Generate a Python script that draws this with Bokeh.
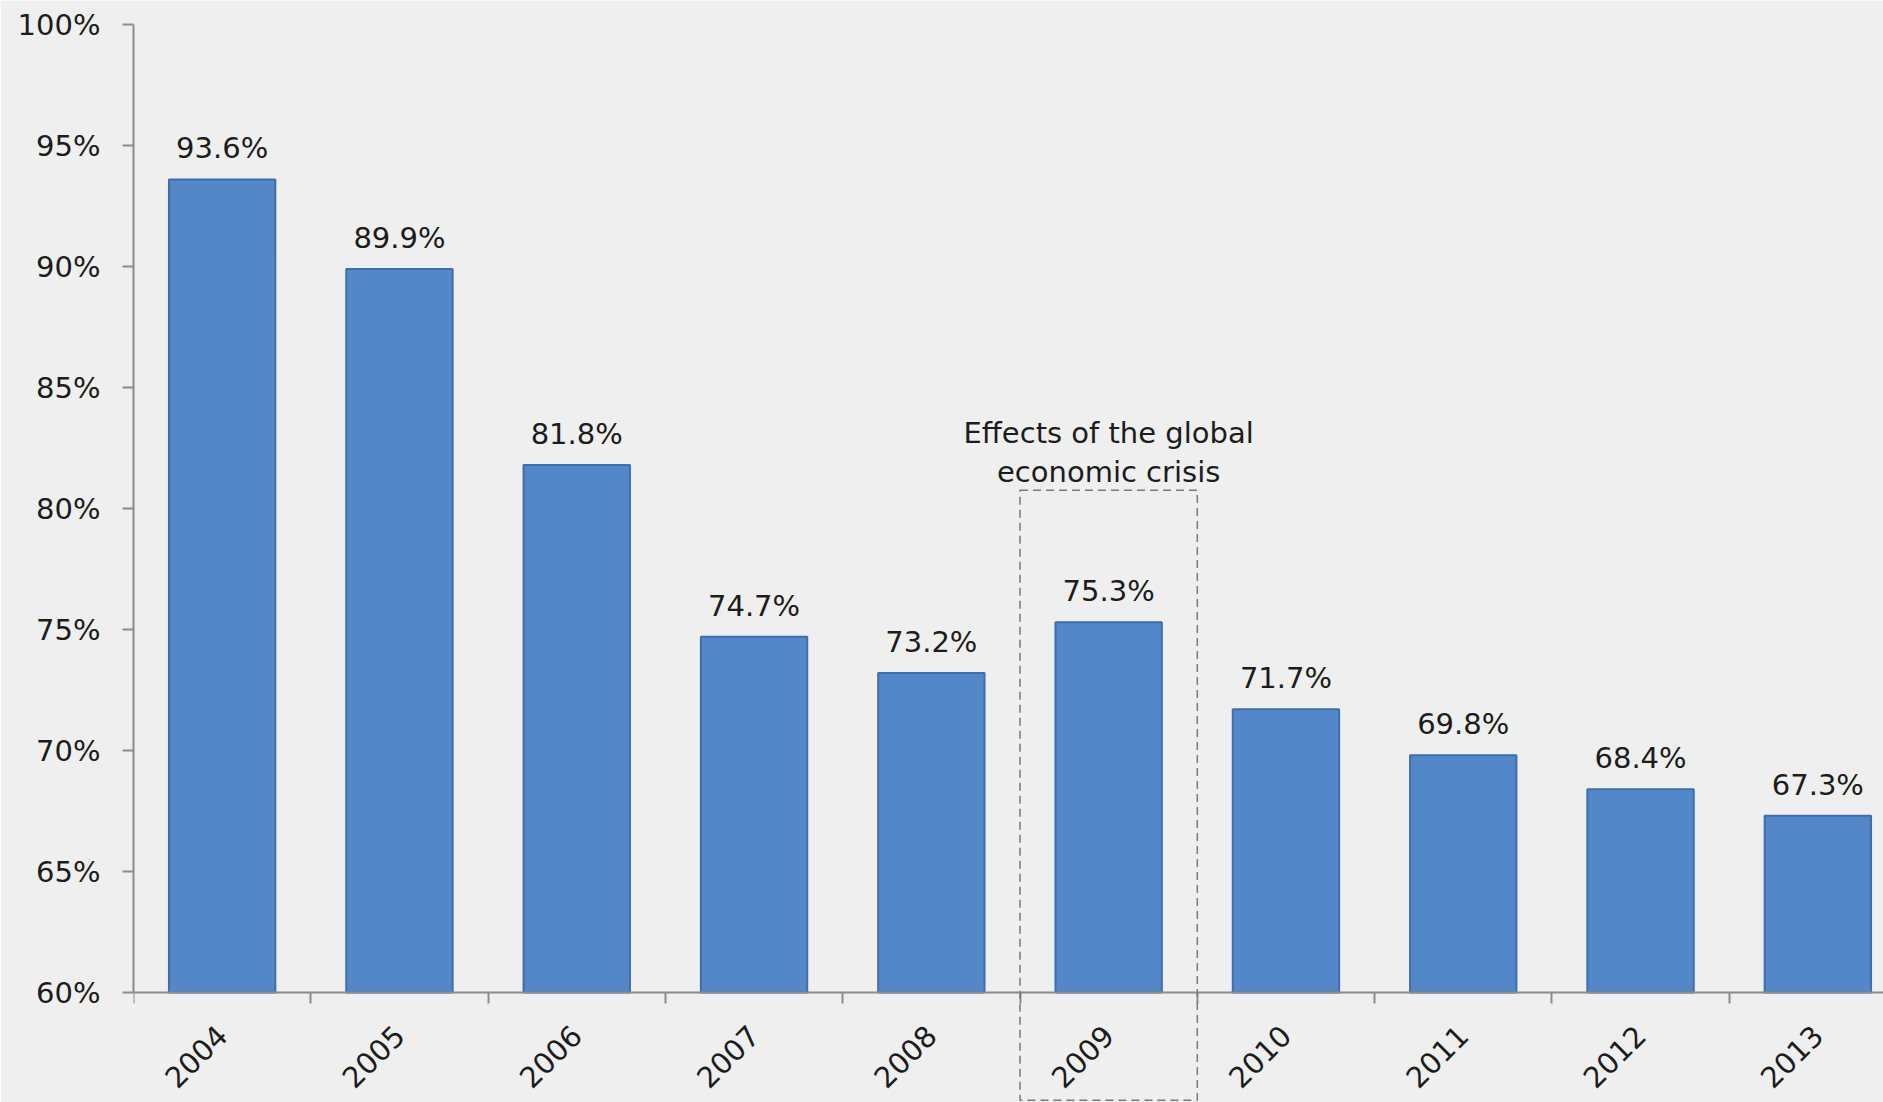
from bokeh.plotting import figure
from bokeh.models import Range1d, FixedTicker, BoxAnnotation, LabelSet, Label, ColumnDataSource, LinearAxis
from bokeh.core.properties import value
from bokeh.embed import file_html
from bokeh.resources import INLINE

# ---- data ----
years = ["2004", "2005", "2006", "2007", "2008", "2009", "2010", "2011", "2012", "2013"]
values = [93.6, 89.9, 81.8, 74.7, 73.2, 75.3, 71.7, 69.8, 68.4, 67.3]
value_labels = ["93.6%", "89.9%", "81.8%", "74.7%", "73.2%", "75.3%", "71.7%", "69.8%", "68.4%", "67.3%"]
y_ticks = [60, 65, 70, 75, 80, 85, 90, 95, 100]
y_tick_labels = ["60%", "65%", "70%", "75%", "80%", "85%", "90%", "95%", "100%"]
highlight_year = "2009"
annotation_lines = ["Effects of the global", "economic crisis"]

FONT = "DejaVu Sans"
FS = "29px"
TXT = "#1c1c1c"
AX = "#8c8c8c"
BG = "#efefef"

W, H = 1883, 1102
LEFT, TOP = 133, 24
CAT_PX = 177.3
PX_PER_UNIT = 24.2

centers = [i + 0.5 for i in range(len(years))]
bounds = [float(i) for i in range(len(years) + 1)]

x_end = (W - LEFT) / CAT_PX
y_start = 100 - (H - TOP) / PX_PER_UNIT

src = ColumnDataSource(dict(x=centers, top=values, lab=value_labels))

p = figure(width=W, height=H, output_backend="svg", toolbar_location=None,
           x_range=Range1d(0, x_end), y_range=Range1d(y_start, 100),
           min_border_left=LEFT, min_border_right=0, min_border_top=TOP, min_border_bottom=0,
           x_axis_location=None)
p.background_fill_color = BG
p.border_fill_color = BG
p.outline_line_color = None
p.grid.visible = False

p.vbar(x="x", top="top", bottom=y_ticks[0], width=0.6, source=src,
       fill_color="#5387c8", line_color="#3e6eac", line_width=2)

p.add_layout(LabelSet(x="x", y="top", text="lab", source=src, text_align="center",
                      text_baseline="alphabetic", y_offset=21, text_font=value(FONT),
                      text_font_size=value(FS), text_color=TXT))

# y axis
p.yaxis.ticker = FixedTicker(ticks=y_ticks)
p.yaxis.bounds = (y_ticks[0], y_ticks[-1])
p.yaxis.major_label_overrides = {t: l for t, l in zip(y_ticks, y_tick_labels)}
p.yaxis.major_tick_out = 11
p.yaxis.major_tick_in = 0
p.yaxis.minor_tick_line_color = None
p.yaxis.major_label_standoff = 22
p.yaxis.axis_line_color = AX
p.yaxis.axis_line_width = 2
p.yaxis.major_tick_line_color = AX
p.yaxis.major_tick_line_width = 2
p.yaxis.major_label_text_font = FONT
p.yaxis.major_label_text_font_size = FS
p.yaxis.major_label_text_color = TXT

# x axis, pinned at the 60% baseline
xax = LinearAxis(fixed_location=y_ticks[0])
xax.ticker = FixedTicker(ticks=centers, minor_ticks=bounds)
xax.major_label_overrides = {c: y for c, y in zip(centers, years)}
xax.major_tick_out = 0
xax.major_tick_in = 0
xax.minor_tick_out = 11
xax.minor_tick_in = 0
xax.minor_tick_line_color = AX
xax.minor_tick_line_width = 2
xax.axis_line_color = AX
xax.axis_line_width = 2
xax.major_label_orientation = 0.785398
xax.major_label_standoff = 27
xax.major_label_text_font = FONT
xax.major_label_text_font_size = FS
xax.major_label_text_color = TXT
p.add_layout(xax, "below")

# highlight box for the crisis year
hi = years.index(highlight_year)
box = BoxAnnotation(left=bounds[hi], right=bounds[hi + 1], top=80.75, bottom=55.55,
                    fill_alpha=0, line_color="#7a7a7a", line_alpha=1.0,
                    line_width=1.5, line_dash="8 5")
p.add_layout(box)

for k, line in enumerate(annotation_lines):
    p.add_layout(Label(x=centers[hi], y=80.75, text=line, text_align="center",
                       text_baseline="alphabetic", y_offset=57 - 39 * k,
                       text_font=FONT, text_font_size=FS, text_color=TXT))

open("out.html", "w").write(file_html(p, INLINE))
